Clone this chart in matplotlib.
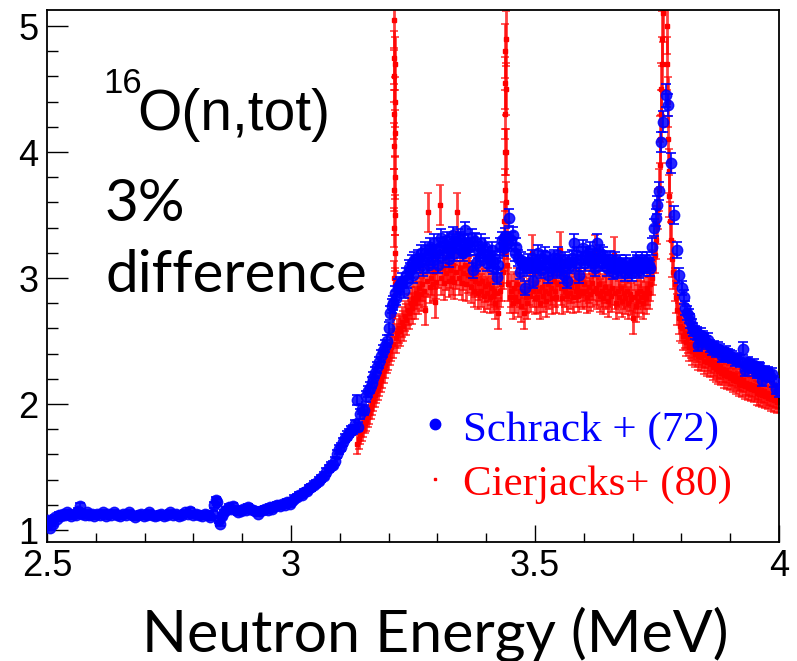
import matplotlib.pyplot as plt
from matplotlib.ticker import MultipleLocator

# 16O total cross section (barn) vs neutron energy (MeV)

# Schrack et al. (1972)
schrack_points = [
    (2.500, 1.04), (2.503, 1.08), (2.506, 1.02), (2.509, 1.07), (2.512, 1.05), (2.516, 1.10),
    (2.520, 1.09), (2.524, 1.12), (2.528, 1.11), (2.532, 1.13), (2.536, 1.12), (2.540, 1.14),
    (2.545, 1.13), (2.550, 1.11), (2.555, 1.13), (2.560, 1.12), (2.564, 1.15), (2.568, 1.19),
    (2.572, 1.13), (2.577, 1.12), (2.582, 1.14), (2.587, 1.12), (2.592, 1.13), (2.597, 1.11),
    (2.602, 1.13), (2.608, 1.12), (2.614, 1.14), (2.620, 1.11), (2.626, 1.13), (2.632, 1.12),
    (2.638, 1.14), (2.644, 1.12), (2.650, 1.11), (2.656, 1.13), (2.662, 1.12), (2.668, 1.14),
    (2.674, 1.12), (2.680, 1.10), (2.686, 1.12), (2.692, 1.13), (2.698, 1.11), (2.704, 1.12),
    (2.710, 1.14), (2.716, 1.12), (2.722, 1.11), (2.728, 1.12), (2.734, 1.13), (2.740, 1.11),
    (2.746, 1.12), (2.752, 1.14), (2.758, 1.12), (2.764, 1.13), (2.770, 1.11), (2.776, 1.12),
    (2.782, 1.14), (2.788, 1.13), (2.794, 1.15), (2.800, 1.12), (2.806, 1.13), (2.812, 1.12),
    (2.818, 1.11), (2.824, 1.13), (2.830, 1.12), (2.835, 1.10), (2.840, 1.13), (2.843, 1.20),
    (2.846, 1.24), (2.849, 1.22), (2.852, 1.08), (2.855, 1.05), (2.858, 1.11), (2.862, 1.14),
    (2.867, 1.16), (2.872, 1.18), (2.877, 1.17), (2.882, 1.19), (2.887, 1.16), (2.892, 1.14),
    (2.897, 1.15), (2.902, 1.17), (2.907, 1.16), (2.912, 1.18), (2.917, 1.17), (2.922, 1.16),
    (2.927, 1.15), (2.932, 1.13), (2.937, 1.15), (2.942, 1.16), (2.947, 1.17), (2.952, 1.16),
    (2.957, 1.18), (2.962, 1.17), (2.967, 1.19), (2.972, 1.20), (2.977, 1.19), (2.982, 1.21),
    (2.987, 1.20), (2.992, 1.22), (2.997, 1.21), (3.002, 1.23), (3.007, 1.25), (3.012, 1.26),
    (3.017, 1.28), (3.022, 1.28), (3.027, 1.30), (3.032, 1.31), (3.037, 1.33), (3.042, 1.34),
    (3.047, 1.36), (3.052, 1.37), (3.057, 1.39), (3.062, 1.41), (3.067, 1.43), (3.072, 1.46),
    (3.077, 1.49), (3.082, 1.51), (3.087, 1.52), (3.091, 1.55), (3.095, 1.60), (3.099, 1.64),
    (3.103, 1.66), (3.107, 1.70), (3.111, 1.73), (3.115, 1.75), (3.119, 1.77), (3.123, 1.79),
    (3.127, 1.80), (3.131, 1.84), (3.135, 2.03), (3.138, 1.82), (3.142, 1.92), (3.146, 1.96),
    (3.150, 1.95), (3.154, 2.06), (3.157, 2.10), (3.161, 2.13), (3.165, 2.17), (3.169, 2.21),
    (3.173, 2.25), (3.177, 2.29), (3.181, 2.33), (3.185, 2.38), (3.189, 2.42), (3.193, 2.46),
    (3.196, 2.50), (3.200, 2.60), (3.203, 2.72), (3.206, 2.78), (3.209, 2.80), (3.213, 2.88),
    (3.216, 2.84), (3.219, 2.93), (3.223, 2.95), (3.227, 2.98), (3.232, 2.90), (3.235, 3.02),
    (3.238, 2.98), (3.241, 3.08), (3.244, 3.06), (3.247, 3.12), (3.250, 3.02), (3.253, 3.14),
    (3.256, 3.10), (3.260, 3.16), (3.264, 3.13), (3.267, 3.20), (3.270, 3.08), (3.274, 3.22),
    (3.279, 3.17), (3.282, 3.10), (3.285, 3.25), (3.288, 3.20), (3.291, 3.14), (3.294, 3.28),
    (3.297, 3.20), (3.301, 3.10), (3.305, 3.25), (3.308, 3.32), (3.311, 3.18), (3.315, 3.26),
    (3.320, 3.30), (3.323, 3.15), (3.326, 3.22), (3.329, 3.28), (3.332, 3.34), (3.335, 3.20),
    (3.338, 3.26), (3.342, 3.32), (3.346, 3.30), (3.349, 3.22), (3.352, 3.20), (3.355, 3.28),
    (3.357, 3.38), (3.360, 3.24), (3.363, 3.28), (3.367, 3.25), (3.370, 3.32), (3.373, 3.06),
    (3.377, 3.29), (3.380, 3.12), (3.383, 3.22), (3.387, 3.17), (3.390, 3.28), (3.393, 3.20),
    (3.398, 3.25), (3.401, 3.12), (3.404, 3.18), (3.408, 3.14), (3.411, 3.22), (3.414, 3.09),
    (3.418, 3.15), (3.422, 3.01), (3.425, 3.10), (3.428, 3.25), (3.432, 3.30), (3.436, 3.24),
    (3.439, 3.33), (3.443, 3.28), (3.447, 3.48), (3.451, 3.30), (3.455, 3.34), (3.458, 3.20),
    (3.461, 3.25), (3.465, 3.16), (3.469, 3.05), (3.472, 3.14), (3.476, 3.10), (3.480, 2.92),
    (3.483, 3.08), (3.486, 3.13), (3.490, 3.10), (3.493, 3.16), (3.496, 2.98), (3.499, 3.08),
    (3.502, 3.12), (3.506, 3.20), (3.510, 3.10), (3.513, 3.06), (3.516, 3.15), (3.520, 3.18),
    (3.523, 3.10), (3.527, 3.02), (3.531, 3.14), (3.535, 3.08), (3.538, 3.16), (3.541, 3.13),
    (3.545, 3.06), (3.548, 3.18), (3.551, 3.12), (3.555, 3.08), (3.559, 3.02), (3.562, 3.14),
    (3.566, 2.98), (3.569, 3.12), (3.572, 3.10), (3.576, 3.16), (3.580, 3.28), (3.583, 3.12),
    (3.586, 3.18), (3.590, 3.02), (3.594, 3.14), (3.598, 3.24), (3.602, 3.12), (3.605, 3.18),
    (3.609, 3.14), (3.613, 3.22), (3.617, 3.17), (3.620, 3.12), (3.623, 3.08), (3.627, 3.28),
    (3.630, 3.16), (3.633, 3.20), (3.637, 3.12), (3.640, 3.18), (3.643, 3.14), (3.647, 3.08),
    (3.650, 3.12), (3.654, 3.15), (3.657, 3.10), (3.660, 3.05), (3.664, 3.14), (3.668, 3.10),
    (3.671, 3.06), (3.674, 3.12), (3.677, 3.08), (3.680, 3.10), (3.684, 3.04), (3.687, 3.12),
    (3.691, 3.06), (3.695, 3.10), (3.699, 3.04), (3.703, 3.08), (3.706, 3.14), (3.709, 3.12),
    (3.713, 3.06), (3.716, 3.10), (3.719, 3.14), (3.723, 3.08), (3.726, 3.12), (3.730, 3.14),
    (3.733, 3.10), (3.736, 3.08), (3.740, 3.25), (3.744, 3.40), (3.747, 3.48), (3.750, 3.58),
    (3.754, 3.69), (3.758, 4.08), (3.762, 4.24), (3.768, 4.45), (3.773, 4.37), (3.779, 3.91),
    (3.785, 3.50), (3.791, 3.22), (3.795, 3.02), (3.801, 2.92), (3.805, 2.85), (3.808, 2.76),
    (3.811, 2.72), (3.815, 2.70), (3.818, 2.66), (3.821, 2.62), (3.824, 2.59), (3.828, 2.57),
    (3.832, 2.56), (3.835, 2.47), (3.838, 2.50), (3.841, 2.55), (3.844, 2.53), (3.847, 2.51),
    (3.850, 2.49), (3.855, 2.51), (3.859, 2.46), (3.863, 2.44), (3.867, 2.45), (3.871, 2.42),
    (3.875, 2.44), (3.879, 2.43), (3.883, 2.38), (3.887, 2.40), (3.891, 2.41), (3.895, 2.39),
    (3.899, 2.38), (3.904, 2.37), (3.909, 2.35), (3.914, 2.36), (3.920, 2.34), (3.926, 2.44),
    (3.930, 2.27), (3.933, 2.31), (3.936, 2.33), (3.940, 2.30), (3.945, 2.29), (3.948, 2.31),
    (3.951, 2.27), (3.955, 2.25), (3.958, 2.29), (3.961, 2.28), (3.965, 2.19), (3.968, 2.24),
    (3.971, 2.26), (3.974, 2.23), (3.977, 2.25), (3.981, 2.22), (3.986, 2.24), (3.990, 2.18),
    (3.994, 2.12), (4.000, 2.10),
]

# Cierjacks et al. (1980)
cierjacks_points = [
    (3.136, 1.68), (3.139, 1.72), (3.142, 1.76), (3.145, 1.79), (3.148, 1.82), (3.151, 1.85),
    (3.154, 1.87), (3.157, 1.90), (3.160, 1.93), (3.163, 1.97), (3.166, 2.00), (3.169, 2.04),
    (3.172, 2.07), (3.175, 2.10), (3.178, 2.13), (3.181, 2.16), (3.184, 2.19), (3.187, 2.23),
    (3.190, 2.27), (3.193, 2.31), (3.196, 2.35), (3.199, 2.38), (3.202, 2.42), (3.205, 2.45),
    (3.208, 2.48), (3.2100, 2.70), (3.2104, 3.00), (3.2107, 3.40), (3.2110, 3.70),
    (3.2112, 4.05), (3.2114, 4.30), (3.2116, 4.60), (3.2118, 4.75), (3.2120, 5.05),
    (3.2122, 4.70), (3.2124, 4.40), (3.2126, 4.15), (3.2129, 3.80), (3.2133, 3.50),
    (3.2137, 3.20), (3.2141, 2.95), (3.215, 2.52), (3.218, 2.56), (3.221, 2.60), (3.224, 2.58),
    (3.227, 2.65), (3.230, 2.62), (3.233, 2.70), (3.236, 2.67), (3.239, 2.75), (3.242, 2.72),
    (3.245, 2.80), (3.248, 2.76), (3.251, 2.84), (3.254, 2.80), (3.257, 2.88), (3.260, 2.84),
    (3.263, 2.92), (3.266, 2.87), (3.269, 2.95), (3.272, 2.90), (3.275, 2.75), (3.278, 2.98),
    (3.281, 3.52), (3.284, 2.93), (3.287, 3.00), (3.290, 2.95), (3.293, 3.05), (3.295, 2.81),
    (3.298, 2.97), (3.301, 3.06), (3.305, 3.58), (3.308, 3.00), (3.311, 3.08), (3.314, 2.96),
    (3.317, 3.04), (3.320, 3.10), (3.323, 2.98), (3.326, 3.06), (3.329, 3.00), (3.332, 3.10),
    (3.335, 2.97), (3.338, 3.05), (3.341, 3.52), (3.344, 3.00), (3.347, 3.08), (3.350, 2.96),
    (3.353, 3.04), (3.356, 3.10), (3.359, 2.95), (3.362, 3.02), (3.365, 3.08), (3.368, 2.93),
    (3.371, 3.00), (3.374, 2.90), (3.377, 2.98), (3.380, 3.04), (3.383, 2.88), (3.386, 2.96),
    (3.389, 2.90), (3.392, 2.98), (3.395, 2.86), (3.398, 2.94), (3.401, 2.88), (3.404, 2.95),
    (3.407, 2.85), (3.410, 2.92), (3.413, 2.86), (3.416, 2.90), (3.419, 2.80), (3.422, 2.88),
    (3.425, 2.72), (3.428, 2.90), (3.431, 2.95), (3.434, 3.05), (3.436, 3.20), (3.4370, 3.45),
    (3.4375, 3.70), (3.4380, 4.00), (3.4385, 4.30), (3.4390, 4.55), (3.4395, 4.80),
    (3.4400, 4.90), (3.4405, 4.50), (3.4410, 4.00), (3.4415, 3.60), (3.4420, 3.30),
    (3.443, 3.10), (3.445, 2.95), (3.448, 2.85), (3.451, 2.90), (3.454, 2.80), (3.457, 2.92),
    (3.460, 2.85), (3.463, 2.95), (3.466, 2.82), (3.469, 2.90), (3.472, 2.78), (3.475, 2.88),
    (3.478, 2.72), (3.481, 2.85), (3.484, 2.80), (3.487, 2.92), (3.490, 2.86), (3.493, 3.20),
    (3.496, 2.90), (3.499, 2.84), (3.502, 2.95), (3.505, 2.85), (3.508, 2.90), (3.511, 2.80),
    (3.514, 2.93), (3.517, 2.86), (3.520, 2.90), (3.523, 2.82), (3.526, 2.95), (3.529, 2.88),
    (3.532, 2.92), (3.535, 2.84), (3.538, 2.98), (3.541, 2.90), (3.544, 2.85), (3.547, 2.95),
    (3.551, 3.22), (3.553, 2.92), (3.556, 2.84), (3.559, 3.00), (3.562, 2.90), (3.565, 2.86),
    (3.568, 2.95), (3.571, 2.88), (3.574, 2.93), (3.577, 2.85), (3.580, 2.97), (3.583, 2.90),
    (3.586, 2.94), (3.589, 2.86), (3.592, 2.98), (3.595, 2.90), (3.598, 2.88), (3.601, 2.95),
    (3.604, 2.90), (3.607, 2.85), (3.610, 2.93), (3.613, 2.87), (3.616, 2.96), (3.619, 2.90),
    (3.623, 3.20), (3.625, 2.92), (3.628, 2.88), (3.631, 2.95), (3.634, 2.86), (3.637, 2.90),
    (3.640, 2.84), (3.643, 2.93), (3.646, 2.88), (3.649, 2.82), (3.652, 2.90), (3.655, 2.86),
    (3.658, 2.92), (3.661, 3.18), (3.664, 2.88), (3.667, 2.80), (3.670, 2.90), (3.673, 2.85),
    (3.676, 2.92), (3.679, 2.82), (3.682, 2.88), (3.685, 2.84), (3.688, 2.90), (3.691, 2.80),
    (3.694, 2.87), (3.697, 2.83), (3.700, 2.68), (3.703, 2.85), (3.706, 2.78), (3.709, 2.88),
    (3.712, 2.82), (3.715, 2.90), (3.718, 2.85), (3.721, 2.80), (3.724, 2.88), (3.727, 2.84),
    (3.730, 2.92), (3.733, 2.88), (3.736, 2.95), (3.739, 3.00), (3.742, 3.08), (3.745, 3.18),
    (3.748, 3.30), (3.750, 3.42), (3.752, 3.55), (3.754, 3.70), (3.756, 3.90), (3.757, 4.10),
    (3.758, 4.30), (3.759, 4.50), (3.760, 4.70), (3.761, 4.90), (3.762, 5.10), (3.763, 5.50),
    (3.769, 5.60), (3.770, 5.00), (3.771, 4.70), (3.772, 4.40), (3.773, 4.10), (3.774, 3.85),
    (3.775, 3.65), (3.777, 3.45), (3.779, 3.30), (3.781, 3.15), (3.783, 3.05), (3.786, 2.95),
    (3.789, 2.85), (3.792, 2.75), (3.795, 2.68), (3.798, 2.62), (3.801, 2.60), (3.804, 2.54),
    (3.807, 2.56), (3.810, 2.49), (3.813, 2.52), (3.816, 2.45), (3.819, 2.48), (3.822, 2.42),
    (3.825, 2.46), (3.828, 2.40), (3.831, 2.44), (3.834, 2.38), (3.837, 2.42), (3.840, 2.37),
    (3.843, 2.40), (3.846, 2.34), (3.849, 2.39), (3.852, 2.33), (3.855, 2.37), (3.858, 2.32),
    (3.861, 2.35), (3.864, 2.29), (3.867, 2.33), (3.870, 2.28), (3.873, 2.31), (3.876, 2.26),
    (3.879, 2.30), (3.882, 2.25), (3.885, 2.28), (3.888, 2.23), (3.891, 2.27), (3.894, 2.22),
    (3.897, 2.25), (3.900, 2.21), (3.903, 2.24), (3.906, 2.19), (3.909, 2.23), (3.912, 2.18),
    (3.915, 2.21), (3.918, 2.16), (3.921, 2.20), (3.924, 2.15), (3.927, 2.19), (3.930, 2.14),
    (3.933, 2.17), (3.936, 2.13), (3.939, 2.16), (3.942, 2.12), (3.945, 2.15), (3.948, 2.11),
    (3.951, 2.14), (3.954, 2.09), (3.957, 2.13), (3.960, 2.08), (3.963, 2.11), (3.966, 2.07),
    (3.969, 2.10), (3.972, 2.06), (3.975, 2.09), (3.978, 2.05), (3.981, 2.08), (3.984, 2.04),
    (3.987, 2.07), (3.990, 2.03), (3.993, 2.06), (3.996, 2.02), (3.999, 2.05),
]

# relative uncertainties of the two data sets
schrack_rel_err = 0.02
cierjacks_rel_err = 0.045

series_labels = ['Schrack + (72)', 'Cierjacks+ (80)']
x_ticks = [2.5, 3, 3.5, 4]
x_tick_labels = ['2.5', '3', '3.5', '4']
y_ticks = [1, 2, 3, 4, 5]
y_tick_labels = ['1', '2', '3', '4', '5']

W, H = 797, 661
fig = plt.figure(figsize=(W / 100, H / 100), dpi=100)
ax = fig.add_axes([47 / W, 1 - 542 / H, 732 / W, 532 / H])

cx, cy = zip(*cierjacks_points)
ax.errorbar(cx, cy, yerr=[v * cierjacks_rel_err for v in cy], fmt='s', ms=2.5,
            color='red', ecolor=(1, 0, 0, 0.75), elinewidth=2.0, capsize=3,
            capthick=1.2, zorder=2)

bx, by = zip(*schrack_points)
ax.errorbar(bx, by, yerr=[v * schrack_rel_err for v in by], fmt='o', ms=7.5,
            color=(0, 0, 1, 0.85), ecolor='blue', elinewidth=1.2, capsize=3.5,
            capthick=1.2, zorder=3)

ax.set_xlim(2.5, 4.0)
ax.set_ylim(0.905, 5.127)
ax.set_xticks(x_ticks)
ax.set_xticklabels(x_tick_labels)
ax.set_yticks(y_ticks)
ax.set_yticklabels(y_tick_labels)
ax.xaxis.set_minor_locator(MultipleLocator(0.1))
ax.yaxis.set_minor_locator(MultipleLocator(0.2))
for lab in ax.get_xticklabels() + ax.get_yticklabels():
    lab.set_fontfamily('Liberation Sans')
    lab.set_fontsize(26)
ax.tick_params(axis='x', which='major', direction='in', length=12, width=1, pad=5)
ax.tick_params(axis='x', which='minor', direction='in', length=6.5, width=1)
ax.tick_params(axis='y', which='major', direction='in', length=15, width=1, pad=6)
ax.tick_params(axis='y', which='minor', direction='in', length=8, width=1)
for sp in ax.spines.values():
    sp.set_linewidth(1.3)

# annotations
fig.text(103 / W, 1 - 93 / H, '16', fontsize=25, family='Liberation Sans', va='baseline')
fig.text(137 / W, 1 - 130 / H, 'O(n,tot)', fontsize=41, family='Liberation Sans', va='baseline')
fig.text(105 / W, 1 - 221 / H, '3%', fontsize=42, family='Lato', va='baseline')
fig.text(105 / W, 1 - 292 / H, 'difference', fontsize=42, family='Lato', va='baseline')

# legend
lx = 2.5 + (435 - 47) / 488
ax.plot([lx], [1 + (530 - 424) / 126], 'o', ms=7.5, color='blue', zorder=4)
ax.plot([lx], [1 + (530 - 479) / 126], 's', ms=2, color='red', zorder=4)
fig.text(463 / W, 1 - 441 / H, series_labels[0], fontsize=31, family='Liberation Serif',
         color='blue', va='baseline')
fig.text(463 / W, 1 - 495 / H, series_labels[1], fontsize=31, family='Liberation Serif',
         color='red', va='baseline')

fig.text(435 / W, 1 - 651 / H, 'Neutron Energy (MeV)', fontsize=42.5, family='Lato',
         ha='center', va='baseline')

fig.savefig('out.png', dpi=100)
